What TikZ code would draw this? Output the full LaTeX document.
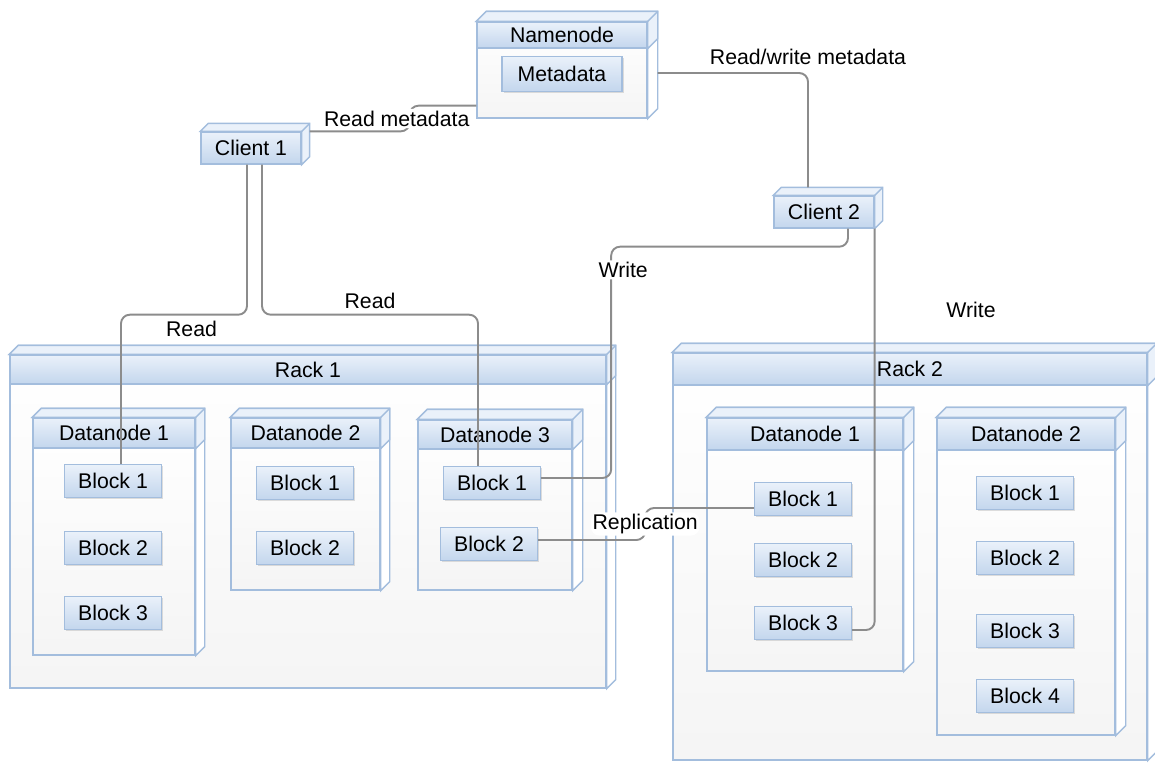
\documentclass[tikz,border=0pt]{standalone}
\usepackage{fontspec}
\setmainfont{Liberation Sans}
\usepackage{tikz}
\usetikzlibrary{fit,shadows}
\usepackage{xcolor}

\definecolor{edgeblue}{HTML}{A3BDDD}
\definecolor{bandtop}{HTML}{EAF1FA}
\definecolor{bandbot}{HTML}{C3D6ED}
\definecolor{wire}{HTML}{8C8C8C}

% depth faces of a box: [fill]{node}{depth}
\newcommand{\extrude}[3][white]{%
  \filldraw[draw=edgeblue, line width=0.8pt, fill=#1] (#2.north west) -- ++(#3,-#3)
    -- ([shift={(#3,-#3)}]#2.north east) -- ([shift={(#3,-#3)}]#2.south east)
    -- (#2.south east) -- (#2.north east) -- cycle;
  \draw[edgeblue, line width=0.8pt] (#2.north east) -- ++(#3,-#3);
}

\begin{document}
\begin{tikzpicture}[x=0.02cm, y=-0.02cm,
    every node/.style={font=\fontsize{12.1}{14}\selectfont},
    frame/.style={draw=edgeblue, line width=0.8pt, top color=white, middle color=white, bottom color=black!4, inner sep=0pt},
    band/.style={draw=edgeblue, line width=0.8pt, top color=bandtop, bottom color=bandbot, inner sep=0pt},
    block/.style={draw=edgeblue, line width=0.8pt, top color=bandtop, bottom color=bandbot,
      minimum width=1.94cm, minimum height=0.66cm, inner sep=0pt,
      drop shadow={shadow xshift=1pt, shadow yshift=-1pt, opacity=0.25}},
    client/.style={draw=edgeblue, line width=0.8pt, top color=bandtop, bottom color=bandbot,
      minimum width=2cm, minimum height=0.64cm, inner sep=0pt},
    link/.style={draw=wire, line width=1.1pt, rounded corners=5pt},
    tag/.style={fill=white, inner sep=1pt}]
    \useasboundingbox (0,0) rectangle (1155,762);
    % Namenode
    \node[frame, fit={(477,22) (647,118)}] (nn) {};
    \node[band, fit={(477,22) (647,48)}, label={center:Namenode}] (nnh) {};
    \extrude{nn}{10}
    \extrude[bandtop]{nnh}{10}
    \node[block, minimum width=2.4cm, minimum height=0.7cm] (meta) at (562,74) {Metadata};
    % Clients
    \node[client] (c1) at (251,148) {Client 1};
    \extrude[bandtop]{c1}{8}
    \node[client] (c2) at (824,212) {Client 2};
    \extrude[bandtop]{c2}{8}
    % Rack 1
    \node[frame, fit={(10,355) (606,688)}] (r1) {};
    \node[band, fit={(10,355) (606,384)}, label={center:Rack 1}] (r1h) {};
    \extrude{r1}{9}
    \extrude[bandtop]{r1h}{9}
    \node[frame, fit={(33,418) (195,655)}] (r1d1) {};
    \node[band, fit={(33,418) (195,448)}, label={center:Datanode 1}] (r1d1h) {};
    \extrude{r1d1}{9}
    \extrude[bandtop]{r1d1h}{9}
    \node[frame, fit={(231,418) (380,590)}] (r1d2) {};
    \node[band, fit={(231,418) (380,448)}, label={center:Datanode 2}] (r1d2h) {};
    \extrude{r1d2}{9}
    \extrude[bandtop]{r1d2h}{9}
    \node[frame, fit={(418,420) (572,590)}] (r1d3) {};
    \node[band, fit={(418,420) (572,449)}, label={center:Datanode 3}] (r1d3h) {};
    \extrude{r1d3}{10}
    \extrude[bandtop]{r1d3h}{10}
    \node[block] (r1d1b1) at (113,481) {Block 1};
    \node[block] (r1d1b2) at (113,548) {Block 2};
    \node[block] (r1d1b3) at (113,613) {Block 3};
    \node[block] (r1d2b1) at (305,483) {Block 1};
    \node[block] (r1d2b2) at (305,548) {Block 2};
    \node[block] (r1d3b1) at (492,483) {Block 1};
    \node[block] (r1d3b2) at (489,544) {Block 2};
    % Rack 2
    \node[frame, fit={(673,353) (1147,760)}] (r2) {};
    \node[band, fit={(673,353) (1147,385)}, label={center:Rack 2}] (r2h) {};
    \extrude{r2}{9}
    \extrude[bandtop]{r2h}{9}
    \node[frame, fit={(707,418) (903,671)}] (r2d1) {};
    \node[band, fit={(707,418) (903,450)}, label={center:Datanode 1}] (r2d1h) {};
    \extrude{r2d1}{10}
    \extrude[bandtop]{r2d1h}{10}
    \node[frame, fit={(937,418) (1115,735)}] (r2d2) {};
    \node[band, fit={(937,418) (1115,450)}, label={center:Datanode 2}] (r2d2h) {};
    \extrude{r2d2}{10}
    \extrude[bandtop]{r2d2h}{10}
    \node[block] (r2d1b1) at (803,499) {Block 1};
    \node[block] (r2d1b2) at (803,560) {Block 2};
    \node[block] (r2d1b3) at (803,623) {Block 3};
    \node[block] (r2d2b1) at (1025,493) {Block 1};
    \node[block] (r2d2b2) at (1025,558) {Block 2};
    \node[block] (r2d2b3) at (1025,631) {Block 3};
    \node[block] (r2d2b4) at (1025,696) {Block 4};
    % Metadata traffic
    \draw[link] ([shift={(8,0)}]c1.north east) -- ++(100,0)
      |- node[tag, pos=0.25, xshift=-0.26cm] {Read metadata} ([shift={(0,-13)}]nn.south west);
    \draw[link] ([shift={(10,3)}]nn.east)
      -| node[pos=0.5, above, inner sep=4pt] {Read/write metadata} ([shift={(-16,-8)}]c2.north);
    % Reads
    \draw[link] ([shift={(-4,0)}]c1.south) -- ++(0,150)
      -| node[pos=0.22, below, inner sep=3pt] {Read} ([shift={(8,0)}]r1d1b1.north);
    \draw[link] ([shift={(11,0)}]c1.south) -- ++(0,150)
      -| node[pos=0.25, above, inner sep=3pt] {Read} ([shift={(-14,0)}]r1d3b1.north);
    % Writes
    \draw[link] ([shift={(24,0)}]c2.south) -- ++(0,18)
      -| node[tag, pos=0.55, xshift=0.24cm] {Write} ([shift={(70,-5)}]r1d3b1.east)
      -- ([shift={(0,-5)}]r1d3b1.east);
    \draw[link] (c2.south east) |- ([shift={(0,7)}]r2d1b3.east);
    \node (w2) at (971,310) {Write};
    % Replication
    \draw[link] ([shift={(0,-4)}]r1d3b2.east) -- ++(107,0)
      |- node[tag, pos=0.25] {Replication} ([shift={(0,9)}]r2d1b1.west);
\end{tikzpicture}
\end{document}
